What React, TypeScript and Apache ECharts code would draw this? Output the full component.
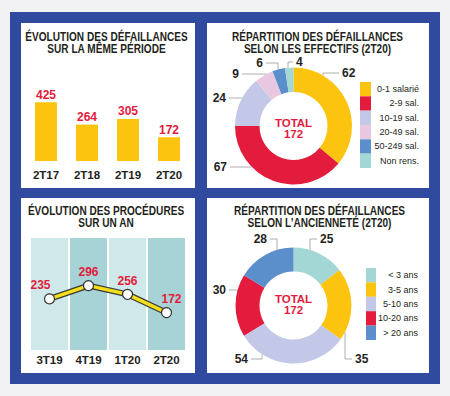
import React, { useEffect, useRef } from 'react';
import * as echarts from 'echarts';

// ---------- data ----------
const barCategories = ['2T17', '2T18', '2T19', '2T20'];
const barValues = [425, 264, 305, 172];

const lineCategories = ['3T19', '4T19', '1T20', '2T20'];
const lineValues = [235, 296, 256, 172];

const effectifNames = ['0-1 salarié', '2-9 sal.', '10-19 sal.', '20-49 sal.', '50-249 sal.', 'Non rens.'];
const effectifValues = [62, 67, 24, 9, 6, 4];

const ancienneteNames = ['< 3 ans', '3-5 ans', '5-10 ans', '10-20 ans', '> 20 ans'];
const ancienneteValues = [25, 35, 54, 30, 28];

const titles = [
  ['ÉVOLUTION DES DÉFAILLANCES', 'SUR LA MÊME PÉRIODE'],
  ['RÉPARTITION DES DÉFAILLANCES', 'SELON LES EFFECTIFS (2T20)'],
  ['ÉVOLUTION DES PROCÉDURES', 'SUR UN AN'],
  ['RÉPARTITION DES DÉFAILLANCES', 'SELON L’ANCIENNETÉ (2T20)'],
];

// ---------- styles ----------
const YELLOW = '#fdc40f';
const RED = '#e31b3c';
const LAV = '#c4c8e8';
const PINK = '#e8c8e0';
const BLUE = '#5b8fcc';
const TEAL = '#a3d7d5';
const INK = '#231f20';
const FONT = "'Liberation Sans', Arial, sans-serif";

const effectifColors = [YELLOW, RED, LAV, PINK, BLUE, TEAL];
const ancienneteColors = [TEAL, YELLOW, LAV, RED, BLUE];

const pie1 = { cx: 293.5, cy: 126, r0: 34, r: 58.5 };
const pie2 = { cx: 293.5, cy: 305.5, r0: 34, r: 58 };

type LabelPos = { x: number; y: number; align: 'left' | 'right'; vx?: number };
const pie1Labels: LabelPos[] = [
  { x: 342, y: 73, align: 'left', vx: 323 },
  { x: 227, y: 167, align: 'right' },
  { x: 226, y: 98, align: 'right' },
  { x: 239, y: 74, align: 'right' },
  { x: 263, y: 63, align: 'right', vx: 278 },
  { x: 296, y: 62, align: 'left', vx: 288 },
];
const pie2Labels: LabelPos[] = [
  { x: 320, y: 239, align: 'left', vx: 310 },
  { x: 355, y: 359, align: 'left', vx: 345 },
  { x: 248, y: 359, align: 'right', vx: 262 },
  { x: 226, y: 290, align: 'right' },
  { x: 267, y: 239, align: 'right', vx: 277 },
];
const lineLabelOffsets = [[-9, 0], [0, 0], [0, 0], [5, 0]];

function leader(p: { cx: number; cy: number; r: number }, L: LabelPos) {
  const gap = 3;
  const near = L.align === 'left' ? L.x - gap : L.x + gap;
  if (L.vx !== undefined) {
    const s = L.y < p.cy ? -1 : 1;
    const dx = L.vx - p.cx;
    const ey = p.cy + s * Math.sqrt(Math.max(0, p.r * p.r - dx * dx));
    return [[L.vx, ey], [L.vx, L.y], [near, L.y]];
  }
  const s = L.x < p.cx ? -1 : 1;
  const dy = L.y - p.cy;
  const ex = p.cx + s * Math.sqrt(Math.max(0, p.r * p.r - dy * dy));
  return [[ex, L.y], [(ex + near) / 2, L.y], [near, L.y]];
}

function centeredText(x: number, y: number, text: string, fill: string, size: number, scaleX = 1) {
  return {
    type: 'text',
    x,
    y,
    scaleX,
    z: 10,
    style: {
      text,
      fill,
      fontSize: size,
      fontWeight: 'bold',
      fontFamily: FONT,
      textAlign: 'center',
      align: 'center',
      textVerticalAlign: 'middle',
      verticalAlign: 'middle',
    },
  };
}

function titleTexts(cx: number, y: number, lines: string[]) {
  return lines.map((t, i) => centeredText(cx, y + i * 12, t, INK, 12, 0.84));
}

function totalTexts(cx: number, cy: number, total: number) {
  return [
    centeredText(cx, cy - 5.5, 'TOTAL', RED, 11.5),
    centeredText(cx, cy + 5.5, String(total), RED, 11.5),
  ];
}

const sum = (a: number[]) => a.reduce((s, v) => s + v, 0);

export default function App() {
  const ref = useRef<HTMLDivElement>(null);
  useEffect(() => {
    if (!ref.current) return;
    const chart = echarts.init(ref.current, undefined, { renderer: 'svg' });
    const labelStyle = { color: INK, fontWeight: 'bold', fontSize: 12, fontFamily: FONT };
    const option: any = {
      animation: false,
      backgroundColor: '#f2f2f5',
      textStyle: { fontFamily: FONT },
      graphic: [
        { type: 'rect', shape: { x: 10, y: 12, width: 430, height: 372 }, style: { fill: '#2f4a9e' } },
        { type: 'rect', shape: { x: 21, y: 23, width: 174, height: 165 }, style: { fill: '#fff' } },
        { type: 'rect', shape: { x: 207, y: 23, width: 222, height: 165 }, style: { fill: '#fff' } },
        { type: 'rect', shape: { x: 21, y: 198, width: 174, height: 175 }, style: { fill: '#fff' } },
        { type: 'rect', shape: { x: 207, y: 198, width: 222, height: 175 }, style: { fill: '#fff' } },
        ...titleTexts(106.5, 37, titles[0]),
        ...titleTexts(317.5, 37, titles[1]),
        ...titleTexts(106, 211, titles[2]),
        ...titleTexts(319.5, 211, titles[3]),
        ...totalTexts(pie1.cx, pie1.cy + 2, sum(effectifValues)),
        ...totalTexts(pie2.cx, pie2.cy - 1, sum(ancienneteValues)),
      ],
      grid: [
        { left: 25.5, width: 164, top: 92, height: 69 },
        { left: 30, width: 156, top: 238, height: 112 },
      ],
      xAxis: [
        {
          gridIndex: 0, type: 'category', data: barCategories,
          axisLine: { show: false }, axisTick: { show: false },
          axisLabel: { color: INK, fontWeight: 'bold', fontSize: 11.5, margin: 8, fontFamily: FONT },
        },
        {
          gridIndex: 1, type: 'category', data: lineCategories, boundaryGap: true,
          axisLine: { show: false }, axisTick: { show: false },
          axisLabel: { color: INK, fontWeight: 'bold', fontSize: 11.5, margin: 4, fontFamily: FONT },
          splitArea: { show: true, areaStyle: { color: ['#cfe9eb', '#a7d2d6'] } },
          splitLine: { show: true, lineStyle: { color: '#ffffff', width: 2 } },
        },
      ],
      yAxis: [
        { gridIndex: 0, type: 'value', min: 0, max: 500, show: false },
        { gridIndex: 1, type: 'value', min: 0, max: 515, show: false },
      ],
      legend: [
        {
          orient: 'vertical', left: 360, top: 82, itemGap: 0, itemWidth: 11, itemHeight: 14.33,
          icon: 'rect', padding: 0, selectedMode: false, data: effectifNames,
          formatter: (n: string) => `{n|${n}}`,
          textStyle: { rich: { n: { width: 43, align: 'right', fontSize: 9, color: INK, fontFamily: FONT } } },
        },
        {
          orient: 'vertical', left: 366, top: 268, itemGap: 0, itemWidth: 10, itemHeight: 14.4,
          icon: 'rect', padding: 0, selectedMode: false, data: ancienneteNames,
          formatter: (n: string) => `{n|${n}}`,
          textStyle: { rich: { n: { width: 37, align: 'right', fontSize: 9, color: INK, fontFamily: FONT } } },
        },
      ],
      series: [
        {
          type: 'bar', xAxisIndex: 0, yAxisIndex: 0, data: barValues, barWidth: 22,
          itemStyle: { color: YELLOW },
          label: { show: true, position: 'top', distance: 1.5, color: RED, fontWeight: 'bold', fontSize: 12, fontFamily: FONT },
          emphasis: { disabled: true },
        },
        {
          type: 'line', xAxisIndex: 1, yAxisIndex: 1, data: lineValues, symbol: 'none', silent: true,
          lineStyle: { color: '#3a3a3a', width: 6 }, z: 2,
        },
        {
          type: 'line', xAxisIndex: 1, yAxisIndex: 1,
          data: lineValues.map((v, i) => ({ value: v, label: { offset: lineLabelOffsets[i] } })),
          symbol: 'circle', symbolSize: 10, showAllSymbol: true,
          itemStyle: { color: '#ffffff', borderColor: '#333333', borderWidth: 1.2 },
          lineStyle: { color: '#f2de1a', width: 3.5 },
          label: { show: true, position: 'top', distance: 2, color: RED, fontWeight: 'bold', fontSize: 12, fontFamily: FONT },
          z: 3,
          emphasis: { disabled: true },
        },
        {
          type: 'pie', center: [pie1.cx, pie1.cy], radius: [pie1.r0, pie1.r], startAngle: 90, clockwise: true,
          avoidLabelOverlap: false,
          data: effectifNames.map((n, i) => ({ name: n, value: effectifValues[i], itemStyle: { color: effectifColors[i] } })),
          label: { show: true, position: 'outside', formatter: '{c}', ...labelStyle },
          labelLine: { show: true, lineStyle: { color: '#9a9a9a', width: 0.8 } },
          labelLayout: (p: any) => {
            const L = pie1Labels[p.dataIndex];
            return { x: L.x, y: L.y, align: L.align, verticalAlign: 'middle', labelLinePoints: leader(pie1, L) };
          },
          emphasis: { disabled: true },
        },
        {
          type: 'pie', center: [pie2.cx, pie2.cy], radius: [pie2.r0, pie2.r], startAngle: 90, clockwise: true,
          avoidLabelOverlap: false,
          data: ancienneteNames.map((n, i) => ({ name: n, value: ancienneteValues[i], itemStyle: { color: ancienneteColors[i] } })),
          label: { show: true, position: 'outside', formatter: '{c}', ...labelStyle },
          labelLine: { show: true, lineStyle: { color: '#9a9a9a', width: 0.8 } },
          labelLayout: (p: any) => {
            const L = pie2Labels[p.dataIndex];
            return { x: L.x, y: L.y, align: L.align, verticalAlign: 'middle', labelLinePoints: leader(pie2, L) };
          },
          emphasis: { disabled: true },
        },
      ],
    };
    chart.setOption(option);
    return () => chart.dispose();
  }, []);
  return <div ref={ref} style={{ position: 'absolute', left: 0, top: 0, width: 450, height: 396 }} />;
}
